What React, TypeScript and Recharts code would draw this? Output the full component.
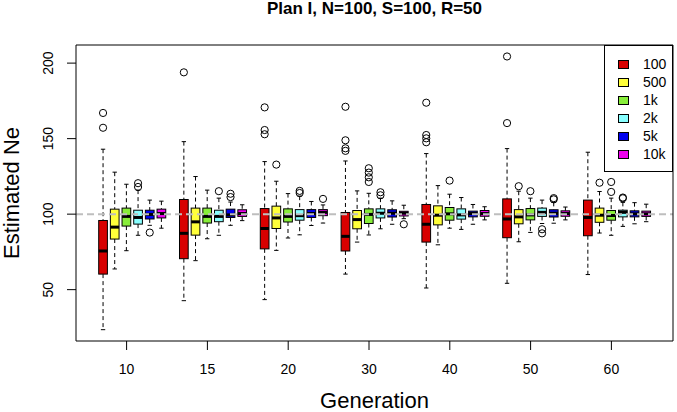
import React from 'react';
import { BarChart, Bar, XAxis, YAxis, ReferenceLine, Legend } from 'recharts';

const generations = ['10', '15', '20', '30', '40', '50', '60'];
const sizeNames = ['100', '500', '1k', '2k', '5k', '10k'];
const sizeColors = ['#D80000', '#FFFF3A', '#88EE3A', '#88FFFF', '#0000EE', '#EE00EE'];
const yTicks = [50, 100, 150, 200];

// [lower whisker, q1, median, q3, upper whisker] for each generation
const box100 = [
  [23.5, 60.3, 75.6, 95.8, 143], [42.7, 70.5, 87.3, 109.7, 148], [43.4, 77, 90.5, 103.7, 134.8],
  [60.3, 75.6, 85.3, 101.1, 135.2], [51.1, 81.5, 93.3, 106.4, 140.1], [54.2, 84.4, 96.8, 110.1, 143.4],
  [60, 85.7, 97.8, 109.3, 141],
];
const box500 = [
  [63.7, 83.5, 91.4, 103.3, 127.8], [69.2, 86.1, 94.9, 104, 124.9], [76, 90.5, 97.5, 105.3, 121.8],
  [81.5, 90.3, 96.4, 102.4, 115.4], [79.7, 92.9, 99.3, 105.5, 118.9], [81.7, 93.6, 98.2, 103, 115.2],
  [87.5, 94.6, 99.3, 104, 115],
];
const box1k = [
  [75.8, 92.1, 98.5, 104, 119.8], [83.7, 94.1, 98.5, 104, 115.9], [84.2, 94.8, 98.5, 103.5, 113.6],
  [86.2, 93.8, 99.8, 103.5, 113.8], [90.7, 96, 100.2, 104.4, 113.2], [87.9, 96.2, 99.5, 103.7, 110.6],
  [86, 96, 99.1, 102.4, 110.6],
];
const box2k = [
  [86, 93.4, 97.8, 102.6, 115.9], [86, 95, 98.5, 102.6, 110.6], [86.3, 96, 99, 103, 111.9],
  [90.3, 97.5, 100.6, 103.5, 110.6], [89.9, 96.7, 99.5, 103.5, 111], [93.8, 98.5, 101.2, 104, 109.3],
  [91.9, 98.2, 101.2, 102.6, 107.8],
];
const box5k = [
  [92.6, 96.8, 99.8, 102.6, 109.3], [92.6, 97.8, 99.5, 103.3, 108], [92.5, 97.8, 100.4, 103, 108.4],
  [93.3, 98.1, 100.6, 102.9, 108.8], [93.3, 98.2, 100.4, 102, 106.4], [94, 98.1, 100.6, 102.9, 107.8],
  [93.6, 98.2, 100.2, 102.2, 107.6],
];
const box10k = [
  [90.7, 97.5, 100.4, 103.3, 108.6], [95.7, 98.5, 100.4, 102.9, 106.2], [94.1, 99, 101.2, 103, 106.1],
  [97, 98.8, 100.6, 101.9, 105.9], [96.2, 98.6, 100.4, 102.4, 104.9], [96.2, 98.6, 100.4, 102.2, 104.7],
  [95, 98.5, 100.2, 102, 106.6],
];

const out100 = [[167, 157.2], [193.9], [170.7, 155.7, 152.9], [171.1, 148.9, 143.6, 141.9], [173.8, 152.4, 150.2, 147.6], [204.4, 160.3], []];
const out500 = [[], [], [132.8], [], [], [118.5], [120.8]];
const out1k = [[], [], [], [130.4, 127.5, 124.4, 121.3], [122.2], [115.2], [121.3, 114.7]];
const out2k = [[120.5, 118], [115.2], [115.4, 114], [114.5, 112.5], [], [90, 87.3], [111, 110.5]];
const out5k = [[87.8], [113.5, 111.3], [], [], [], [110.6, 109.8], []];
const out10k = [[], [], [110.1], [93.3], [], [], []];

const boxes = [box100, box500, box1k, box2k, box5k, box10k];
const outliers = [out100, out500, out1k, out2k, out5k, out10k];

const data = generations.map((gen, i) => {
  const row: Record<string, any> = { gen };
  boxes.forEach((b, s) => {
    row[`s${s}`] = [b[i][1], b[i][3]];
  });
  return row;
});

const FONT = '"Liberation Sans", Arial, Helvetica, sans-serif';

// box drawn from the range bar's q1..q3 rectangle; other values use the same pixel scale
const boxShape = (s: number) => (props: any) => {
  const { x, y, width, height, payload } = props;
  const i = payload ? generations.indexOf(payload.gen) : props.index;
  const [lo, q1, med, q3, hi] = boxes[s][i];
  const top = Math.min(y, y + height);
  const h = Math.abs(height);
  const k = h / (q3 - q1);
  const py = (v: number) => top + (q3 - v) * k;
  const cx = x + width / 2;
  const cap = width / 4;
  return (
    <g>
      <line x1={cx} x2={cx} y1={py(hi)} y2={top} stroke="#000" strokeDasharray="4 3" />
      <line x1={cx} x2={cx} y1={top + h} y2={py(lo)} stroke="#000" strokeDasharray="4 3" />
      <line x1={cx - cap} x2={cx + cap} y1={py(hi)} y2={py(hi)} stroke="#000" />
      <line x1={cx - cap} x2={cx + cap} y1={py(lo)} y2={py(lo)} stroke="#000" />
      <rect x={x} y={top} width={width} height={h} fill={sizeColors[s]} stroke="#000" strokeWidth={1} />
      <line x1={x} x2={x + width} y1={py(med)} y2={py(med)} stroke="#000" strokeWidth={3} />
      {outliers[s][i].map((v, j) => (
        <circle key={j} cx={cx} cy={py(v)} r={3.6} fill="none" stroke="#000" strokeWidth={1} />
      ))}
    </g>
  );
};

const YTick = (props: any) => {
  const { x, y, payload } = props;
  return (
    <text transform={`translate(${x},${y}) rotate(-90)`} textAnchor="middle" fontSize={14} fill="#000">
      {payload.value}
    </text>
  );
};

const LegendBox = () => (
  <div
    style={{
      width: 69,
      height: 127,
      border: '1px solid #000',
      boxSizing: 'border-box',
      background: '#fff',
      paddingTop: 9,
      fontFamily: FONT,
    }}
  >
    {sizeNames.map((name, s) => (
      <div key={name} style={{ height: 18, display: 'flex', alignItems: 'center' }}>
        <div
          style={{
            marginLeft: 13,
            width: 11,
            height: 9,
            background: sizeColors[s],
            border: '1px solid #000',
            boxSizing: 'border-box',
          }}
        />
        <span style={{ marginLeft: 14, fontSize: 14, color: '#000', lineHeight: '18px' }}>{name}</span>
      </div>
    ))}
  </div>
);

export default function App() {
  return (
    <div
      style={{
        position: 'absolute',
        left: 0,
        top: 0,
        width: 677,
        height: 412,
        background: '#fff',
        fontFamily: FONT,
      }}
    >
      <div
        style={{
          position: 'absolute',
          left: 76,
          top: 0,
          width: 597,
          textAlign: 'center',
          fontWeight: 'bold',
          fontSize: 17,
          lineHeight: '17px',
          color: '#000',
        }}
      >
        Plan I, N=100, S=100, R=50
      </div>
      <BarChart
        width={677}
        height={412}
        data={data}
        margin={{ top: 44, right: 3, bottom: 0, left: 0 }}
        barSize={8.7}
        barGap={2.97}
        style={{ position: 'absolute', left: 0, top: 0 }}
      >
        <XAxis
          xAxisId="tick"
          dataKey="gen"
          padding={{ left: 10.2, right: 21.2 }}
          height={71}
          tickSize={9}
          tickMargin={14}
          axisLine={{ stroke: '#000' }}
          tickLine={{ stroke: '#000' }}
          tick={{ fill: '#000', fontSize: 14 }}
          label={{ value: 'Generation', position: 'insideBottom', offset: 4, fontSize: 22, fill: '#000' }}
        />
        <XAxis xAxisId="box" dataKey="gen" hide height={0} padding={{ left: 15.7, right: 15.7 }} />
        <XAxis
          xAxisId="top"
          orientation="top"
          dataKey="gen"
          height={1}
          tick={false}
          tickLine={false}
          axisLine={{ stroke: '#000' }}
        />
        <YAxis
          width={76}
          domain={[16, 212]}
          ticks={yTicks}
          tickSize={9}
          tickMargin={14}
          axisLine={{ stroke: '#000' }}
          tickLine={{ stroke: '#000' }}
          tick={<YTick />}
          label={{
            content: (p: any) => {
              const vb = p.viewBox || { y: 45, height: 296 };
              return (
                <text
                  transform={`translate(19,${vb.y + vb.height / 2}) rotate(-90)`}
                  textAnchor="middle"
                  fontSize={22}
                  fill="#000"
                >
                  Estimated Ne
                </text>
              );
            },
          }}
        />
        <YAxis
          yAxisId="right"
          orientation="right"
          width={1}
          domain={[16, 212]}
          tick={false}
          tickLine={false}
          axisLine={{ stroke: '#000' }}
        />
        {sizeNames.map((name, s) => (
          <Bar
            key={name}
            xAxisId="box"
            dataKey={`s${s}`}
            name={name}
            fill={sizeColors[s]}
            shape={boxShape(s)}
            isAnimationActive={false}
          />
        ))}
        <ReferenceLine xAxisId="box" y={100} stroke="#BEBEBE" strokeWidth={2} strokeDasharray="7 4" />
        <Legend
          layout="horizontal"
          verticalAlign="middle"
          align="center"
          wrapperStyle={{ position: 'absolute', left: 604, top: 45, width: 69, height: 127 }}
          content={() => <LegendBox />}
        />
      </BarChart>
    </div>
  );
}
